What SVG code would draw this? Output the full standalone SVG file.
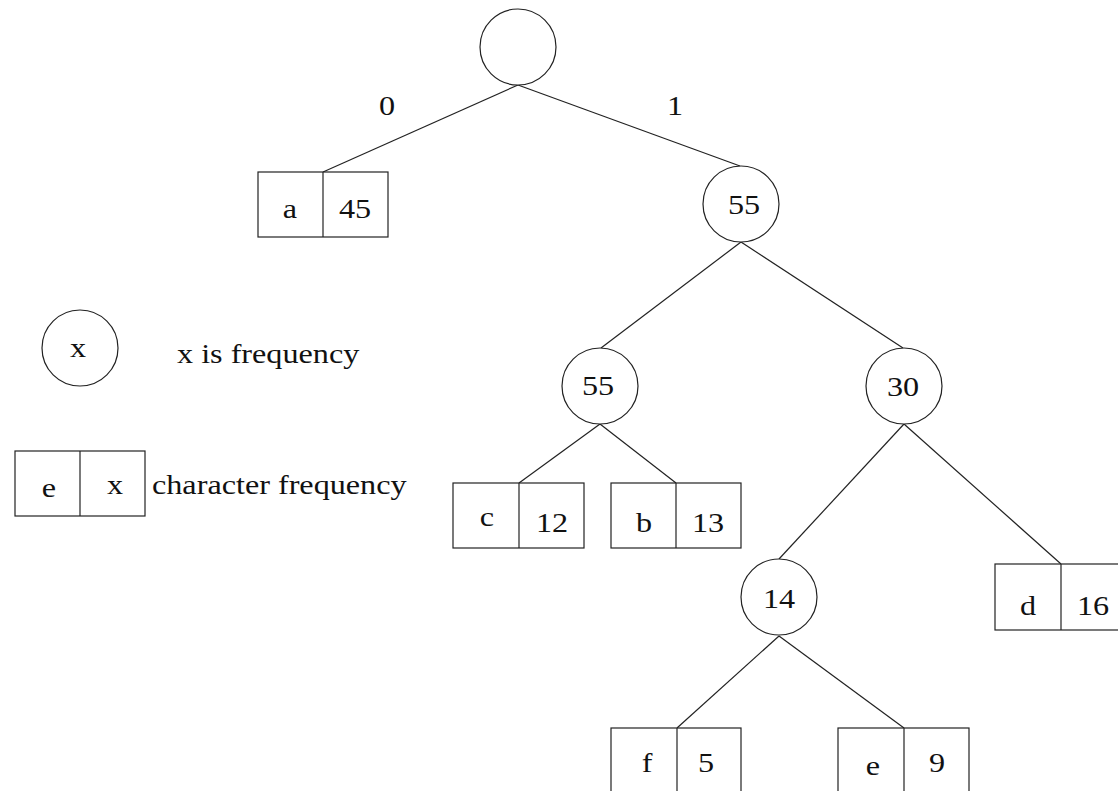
<svg xmlns="http://www.w3.org/2000/svg" width="1118" height="791" viewBox="0 0 1118 791">
<style>
.n{fill:#fff;stroke:#222;stroke-width:1.2}
.e{stroke:#222;stroke-width:1.2;fill:none}
text{font-family:"Liberation Serif","Times New Roman",serif;font-size:28px;fill:#111}
.m{text-anchor:middle}
</style>
<rect width="1118" height="791" fill="#fff"/>
<g id="connectors">
<line class="e" x1="518" y1="85" x2="323" y2="172"/>
<line class="e" x1="518" y1="85" x2="740" y2="166"/>
<line class="e" x1="741" y1="242" x2="601" y2="348"/>
<line class="e" x1="741" y1="242" x2="903" y2="348"/>
<line class="e" x1="600" y1="424" x2="519" y2="483"/>
<line class="e" x1="600" y1="424" x2="676" y2="483"/>
<line class="e" x1="904" y1="424" x2="779" y2="559"/>
<line class="e" x1="904" y1="424" x2="1061" y2="564"/>
<line class="e" x1="779" y1="636" x2="677" y2="728"/>
<line class="e" x1="779" y1="636" x2="904" y2="728"/>
<text class="m" transform="translate(387 115) scale(1.15 1)">0</text>
<text class="m" transform="translate(675 115) scale(1.15 1)">1</text>
</g>
<g id="root"><circle class="n" cx="518" cy="47" r="38"/></g>
<g id="leaf-a">
<rect class="n" x="258" y="172" width="130" height="65"/>
<line class="e" x1="323" y1="172" x2="323" y2="237"/>
<text class="m" transform="translate(290 218) scale(1.15 1)">a</text>
<text class="m" transform="translate(355 218) scale(1.15 1)">45</text>
</g>
<g id="node-55a"><circle class="n" cx="741" cy="204" r="38"/>
<text class="m" transform="translate(744 214) scale(1.15 1)">55</text></g>
<g id="node-55b"><circle class="n" cx="600" cy="386" r="38"/>
<text class="m" transform="translate(598 395) scale(1.15 1)">55</text></g>
<g id="node-30"><circle class="n" cx="904" cy="386" r="38"/>
<text class="m" transform="translate(903 396) scale(1.15 1)">30</text></g>
<g id="leaf-c">
<rect class="n" x="453" y="483" width="131" height="65"/>
<line class="e" x1="519" y1="483" x2="519" y2="548"/>
<text class="m" transform="translate(487 526) scale(1.15 1)">c</text>
<text class="m" transform="translate(552 532) scale(1.15 1)">12</text>
</g>
<g id="leaf-b">
<rect class="n" x="611" y="483" width="130" height="65"/>
<line class="e" x1="676" y1="483" x2="676" y2="548"/>
<text class="m" transform="translate(644 532) scale(1.15 1)">b</text>
<text class="m" transform="translate(708 532) scale(1.15 1)">13</text>
</g>
<g id="node-14"><circle class="n" cx="779" cy="597" r="38"/>
<text class="m" transform="translate(779 608) scale(1.15 1)">14</text></g>
<g id="leaf-d">
<rect class="n" x="995" y="564" width="130" height="66"/>
<line class="e" x1="1061" y1="564" x2="1061" y2="630"/>
<text class="m" transform="translate(1028 615) scale(1.15 1)">d</text>
<text class="m" transform="translate(1093 615) scale(1.15 1)">16</text>
</g>
<g id="leaf-f">
<rect class="n" x="611" y="728" width="130" height="70"/>
<line class="e" x1="677" y1="728" x2="677" y2="798"/>
<text class="m" transform="translate(647 772) scale(1.15 1)">f</text>
<text class="m" transform="translate(706 772) scale(1.15 1)">5</text>
</g>
<g id="leaf-e">
<rect class="n" x="838" y="728" width="131" height="70"/>
<line class="e" x1="904" y1="728" x2="904" y2="798"/>
<text class="m" transform="translate(873 775) scale(1.15 1)">e</text>
<text class="m" transform="translate(937 772) scale(1.15 1)">9</text>
</g>
<g id="legend-circle"><circle class="n" cx="80" cy="348" r="38"/>
<text class="m" transform="translate(78 357) scale(1.15 1)">x</text>
<text transform="translate(177 363) scale(1.15 1)">x is frequency</text></g>
<g id="legend-box">
<rect class="n" x="15" y="451" width="130" height="65"/>
<line class="e" x1="80" y1="451" x2="80" y2="516"/>
<text class="m" transform="translate(49 497) scale(1.15 1)">e</text>
<text class="m" transform="translate(115 494) scale(1.15 1)">x</text>
<text transform="translate(152 494) scale(1.15 1)">character frequency</text>
</g>
</svg>
